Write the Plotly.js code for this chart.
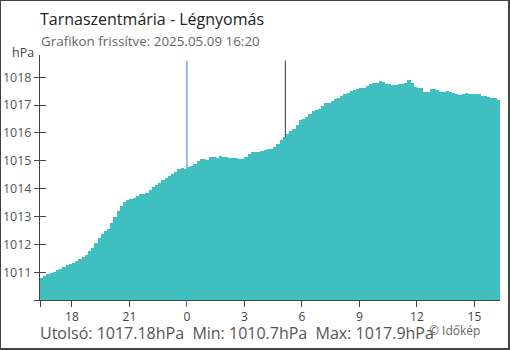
<!DOCTYPE html>
<html>
<head>
<meta charset="utf-8">
<script src="https://cdn.plot.ly/plotly-3.0.1.min.js"></script>
<style>
html,body{margin:0;padding:0;background:#fff;}
#wrap{position:relative;width:510px;height:350px;}
#chart{position:absolute;left:0;top:0;width:510px;height:350px;}
#frame{position:absolute;left:0;top:0;width:510px;height:350px;box-sizing:border-box;border-style:solid;border-color:#444;border-width:1px 2px 2px 1px;pointer-events:none;}
</style>
</head>
<body>
<div id="wrap"><div id="chart"></div><div id="frame"></div></div>
<script>
// 10-minute pressure readings (hPa), 2025-05-08 16:20 .. 2025-05-09 16:20
const startTime = '2025-05-08T16:20:00';
const stepMinutes = 10;
const pressure = [
  1010.80,1010.86,1010.93,1010.96,1011.01,1011.08,1011.12,1011.17,1011.24,1011.28,
  1011.34,1011.40,1011.49,1011.56,1011.63,1011.76,1011.86,1012.03,1012.21,1012.36,
  1012.47,1012.54,1012.76,1012.98,1013.18,1013.38,1013.52,1013.60,1013.62,1013.66,
  1013.74,1013.80,1013.81,1013.85,1013.95,1014.06,1014.12,1014.22,1014.31,1014.40,
  1014.47,1014.52,1014.60,1014.71,1014.75,1014.70,1014.76,1014.82,1014.88,1014.98,
  1015.08,1015.08,1015.04,1015.13,1015.15,1015.11,1015.16,1015.12,1015.14,1015.09,
  1015.09,1015.11,1015.05,1015.06,1015.15,1015.24,1015.33,1015.31,1015.33,1015.34,
  1015.38,1015.42,1015.42,1015.50,1015.60,1015.74,1015.87,1015.98,1016.06,1016.16,
  1016.30,1016.46,1016.49,1016.58,1016.67,1016.78,1016.82,1016.87,1016.98,1017.07,
  1017.09,1017.15,1017.22,1017.25,1017.34,1017.40,1017.43,1017.50,1017.54,1017.57,
  1017.60,1017.62,1017.70,1017.75,1017.79,1017.78,1017.87,1017.82,1017.75,1017.75,
  1017.72,1017.72,1017.76,1017.77,1017.78,1017.90,1017.78,1017.65,1017.60,1017.62,
  1017.48,1017.48,1017.59,1017.58,1017.54,1017.47,1017.48,1017.49,1017.47,1017.43,
  1017.40,1017.38,1017.40,1017.42,1017.41,1017.39,1017.39,1017.40,1017.34,1017.32,
  1017.29,1017.27,1017.25,1017.18
];
const xTickVals = ['2025-05-08 16:20','2025-05-08 18:00','2025-05-08 21:00','2025-05-09 00:00','2025-05-09 03:00','2025-05-09 06:00','2025-05-09 09:00','2025-05-09 12:00','2025-05-09 15:00'];
const xTickText = ['','18','21','0','3','6','9','12','15'];
const yTickVals = [1010,1011,1012,1013,1014,1015,1016,1017,1018];
const yTickText = ['','1011','1012','1013','1014','1015','1016','1017','1018'];
const midnight = '2025-05-09 00:00';
const sunrise = '2025-05-09 05:08';
const xRange = ['2025-05-08 16:20','2025-05-09 16:20'];
const yRange = [1010, 1018.8];
const markerTop = 1018.6;

const titleText = 'Tarnaszentmária - Légnyomás';
const subtitleText = 'Grafikon frissítve: 2025.05.09 16:20';
const statsText = 'Utolsó: 1017.18hPa\u00a0\u00a0Min: 1010.7hPa\u00a0\u00a0Max: 1017.9hPa';
const creditText = '© Időkép';

function pad(n){return (n<10?'0':'')+n;}
const t0 = new Date(startTime).getTime();
const times = pressure.map((_, i) => {
  const d = new Date(t0 + (i + 0.5) * stepMinutes * 60000);
  return d.getFullYear()+'-'+pad(d.getMonth()+1)+'-'+pad(d.getDate())+' '+pad(d.getHours())+':'+pad(d.getMinutes())+':'+pad(d.getSeconds());
});

const FONT = 'Open Sans, Noto Sans, sans-serif';
const trace = {
  type: 'bar', x: times, y: pressure, base: 0,
  width: stepMinutes * 60000,
  marker: {color: '#40bfc1', line: {width: 0}},
  hoverinfo: 'skip'
};
const layout = {
  width: 510, height: 350,
  margin: {l: 40, r: 10, t: 55, b: 50},
  paper_bgcolor: '#fff', plot_bgcolor: '#fff',
  showlegend: false, bargap: 0,
  font: {family: FONT, color: '#444'},
  title: {text: titleText, x: 40/510, xanchor: 'left', xref: 'container', y: 1 - 19/350, yanchor: 'middle', yref: 'container', font: {size: 16, color: '#222', family: FONT}},
  xaxis: {
    type: 'date', range: xRange, tickvals: xTickVals, ticktext: xTickText,
    showgrid: false, zeroline: false, showline: true, linecolor: '#444', linewidth: 1,
    ticks: 'outside', ticklen: 6, tickcolor: '#444', tickwidth: 1,
    tickfont: {size: 12, color: '#444', family: FONT}
  },
  xaxis2: {
    type: 'date', range: xRange, overlaying: 'x', tickvals: [midnight], showticklabels: false,
    showgrid: false, zeroline: false, showline: false,
    ticks: 'outside', ticklen: 6, tickcolor: '#1e88e5', tickwidth: 1
  },
  yaxis: {
    range: yRange, tickvals: yTickVals, ticktext: yTickText,
    showgrid: false, zeroline: false, showline: true, linecolor: '#444', linewidth: 1,
    ticks: 'outside', ticklen: 5, tickcolor: '#444', tickwidth: 1,
    tickfont: {size: 12.5, color: '#555', family: FONT}
  },
  yaxis2: {
    range: yRange, overlaying: 'y', tickvals: yTickVals, showticklabels: false,
    showgrid: false, zeroline: false, showline: false,
    ticks: 'inside', ticklen: 6, tickcolor: '#444', tickwidth: 1
  },
  shapes: [
    {type: 'line', layer: 'below', xref: 'x', yref: 'y', x0: midnight, x1: midnight, y0: yRange[0], y1: markerTop, line: {color: '#1e88e5', width: 1}},
    {type: 'line', layer: 'below', xref: 'x', yref: 'y', x0: sunrise, x1: sunrise, y0: yRange[0], y1: markerTop, line: {color: '#333', width: 1}}
  ],
  annotations: [
    {text: subtitleText, xref: 'paper', yref: 'paper', x: -1/460, y: (300-41)/245, xanchor: 'left', yanchor: 'middle', showarrow: false, font: {size: 13.4, color: '#666', family: FONT}},
    {text: 'hPa', xref: 'paper', yref: 'paper', x: -4/460, y: (300-52)/245, xanchor: 'right', yanchor: 'middle', showarrow: false, font: {size: 12.5, color: '#444', family: FONT}},
    {text: statsText, xref: 'paper', yref: 'paper', x: -2/460, y: (300-333)/245, xanchor: 'left', yanchor: 'middle', showarrow: false, font: {size: 16, color: '#555', family: FONT}},
    {text: creditText, xref: 'paper', yref: 'paper', x: (427-40)/460, y: (300-330)/245, xanchor: 'left', yanchor: 'middle', showarrow: false, font: {size: 12, color: '#666', family: FONT}}
  ]
};
const dummy = {type: 'scatter', x: [], y: [], xaxis: 'x2', yaxis: 'y2', hoverinfo: 'skip'};
Plotly.newPlot('chart', [trace, dummy], layout, {displayModeBar: false, staticPlot: true});
</script>
</body>
</html>
